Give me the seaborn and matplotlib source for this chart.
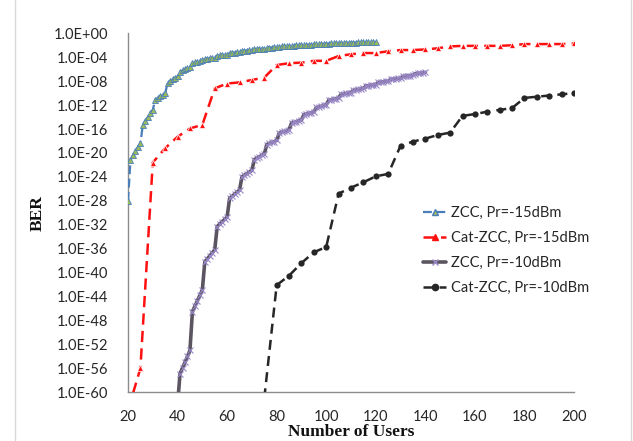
import matplotlib
matplotlib.use("Agg")
import matplotlib.pyplot as plt
import matplotlib.ticker as mticker
from matplotlib.lines import Line2D
import pandas as pd
import seaborn as sns

# BER exponents (BER = 10 ** -exp)
ZCC15_USERS = list(range(20, 121))
ZCC15_EXP = (
    [28.0]
    + [21.2, 20.4, 19.7, 19.0, 18.4]
    + [15.3, 14.6, 14.0, 13.4, 12.8]
    + [11.1, 10.8, 10.5, 10.25, 10.0]
    + [8.3, 8.0, 7.7, 7.45, 7.2]
    + [6.4, 6.2, 6.0, 5.8, 5.6]
    + [5.0, 4.88, 4.76, 4.64, 4.52]
    + [4.3, 4.24, 4.18, 4.11, 4.05]
    + [3.75, 3.7, 3.65, 3.6, 3.55]
    + [3.3, 3.26, 3.22, 3.19, 3.15]
    + [2.95, 2.92, 2.88, 2.85, 2.82]
    + [2.65, 2.62, 2.6, 2.57, 2.55]
    + [2.42, 2.4, 2.38, 2.35, 2.33]
    + [2.22, 2.2, 2.19, 2.17, 2.15]
    + [2.06, 2.05, 2.03, 2.02, 2.0]
    + [1.92, 1.91, 1.9, 1.88, 1.87]
    + [1.81, 1.8, 1.79, 1.77, 1.76]
    + [1.71, 1.7, 1.69, 1.68, 1.67]
    + [1.63, 1.62, 1.61, 1.6, 1.59]
    + [1.55, 1.54, 1.53, 1.53, 1.52]
    + [1.49, 1.48, 1.47, 1.47, 1.46]
)

CAT15_USERS = list(range(20, 201, 5))
CAT15_EXP = [63.0, 56.0, 21.6, 19.2, 17.3, 15.9, 15.3, 9.2, 8.4, 8.2, 7.8, 7.4,
             5.3, 5.0, 4.9, 4.6, 4.6, 3.8, 3.5, 3.3, 3.3, 3.0, 2.8, 2.8, 2.7,
             2.5, 2.2, 2.1, 2.1, 2.1, 2.1, 2.0, 1.8, 1.8, 1.8, 1.8, 1.7]

ZCC10_USERS = list(range(40, 141))
ZCC10_EXP = (
    [62.0]
    + [56.9, 55.9, 55.0, 54.0, 53.0]
    + [46.5, 45.6, 44.7, 43.8, 42.9]
    + [38.2, 37.7, 37.2, 36.7, 36.2]
    + [32.3, 31.9, 31.5, 31.1, 30.7]
    + [27.6, 27.25, 26.9, 26.55, 26.2]
    + [24.0, 23.7, 23.45, 23.2, 22.9]
    + [21.1, 20.9, 20.65, 20.4, 20.2]
    + [18.6, 18.4, 18.25, 18.1, 17.9]
    + [16.7, 16.55, 16.4, 16.25, 16.1]
    + [15.0, 14.9, 14.75, 14.6, 14.5]
    + [13.6, 13.5, 13.4, 13.25, 13.15]
    + [12.4, 12.3, 12.2, 12.05, 11.95]
    + [11.2, 11.1, 11.0, 10.9, 10.8]
    + [10.2, 10.1, 10.05, 9.95, 9.9]
    + [9.5, 9.43, 9.36, 9.29, 9.22]
    + [8.8, 8.74, 8.68, 8.62, 8.56]
    + [8.2, 8.15, 8.1, 8.05, 8.0]
    + [7.7, 7.65, 7.6, 7.55, 7.5]
    + [7.2, 7.16, 7.12, 7.08, 7.04]
    + [6.75, 6.7, 6.65, 6.6, 6.55]
)

CAT10_USERS = list(range(75, 201, 5))
CAT10_EXP = [61.0, 42.1, 40.5, 38.4, 36.6, 35.7, 26.8, 25.8, 24.9, 23.9, 23.5,
             18.8, 18.1, 17.6, 17.0, 16.6, 13.8, 13.5, 13.1, 12.8, 12.5,
             10.8, 10.6, 10.4, 10.2, 10.0]

LABELS = ["ZCC, Pr=-15dBm", "Cat-ZCC, Pr=-15dBm", "ZCC, Pr=-10dBm", "Cat-ZCC, Pr=-10dBm"]
X_TICKS = [20, 40, 60, 80, 100, 120, 140, 160, 180, 200]
Y_EXPS = list(range(0, 61, 4))

sns.set_theme(style="white")
plt.rcParams["font.family"] = ["Lato", "DejaVu Sans"]

fig = plt.figure(figsize=(6.33, 4.41), dpi=100)
ax = fig.add_axes([128 / 633, 1 - 392.3 / 441, (574 - 128) / 633, (392.3 - 33.3) / 441])


def frame(users, exps):
    return pd.DataFrame({"users": users, "ber": [10.0 ** -e for e in exps]})


sns.lineplot(data=frame(ZCC15_USERS, ZCC15_EXP), x="users", y="ber", ax=ax,
             color="#4A7EBB", lw=1.6, linestyle=(0, (4, 2)),
             marker="^", markersize=4, markerfacecolor="#9BBB59",
             markeredgecolor="#4A7EBB", markeredgewidth=0.6, zorder=4)
sns.lineplot(data=frame(CAT15_USERS, CAT15_EXP), x="users", y="ber", ax=ax,
             color="#FF1010", lw=1.8, linestyle=(0, (4.5, 2.5)),
             marker="^", markersize=5, markeredgewidth=0.5, zorder=3)
sns.lineplot(data=frame(ZCC10_USERS, ZCC10_EXP), x="users", y="ber", ax=ax,
             color="#5A5560", lw=2.6, linestyle="-",
             marker="x", markersize=4, markeredgecolor="#9A88C8",
             markeredgewidth=0.8, zorder=3)
sns.lineplot(data=frame(CAT10_USERS, CAT10_EXP), x="users", y="ber", ax=ax,
             color="#262626", lw=1.8, linestyle=(0, (4, 2.5)),
             marker="o", markersize=4.5, markeredgewidth=0, zorder=3)

ax.set_yscale("log")
ax.set_ylim(1e-60, 1.0)
ax.set_xlim(20, 200)
ax.yaxis.set_major_locator(mticker.FixedLocator([10.0 ** -e for e in Y_EXPS]))
ax.yaxis.set_minor_locator(mticker.NullLocator())
ax.set_yticklabels([f"1.0E{-e:+03d}" for e in Y_EXPS])
ax.set_xticks(X_TICKS)
ax.tick_params(axis="both", direction="inout", length=10, width=1,
               color="#8C8C8C", labelsize=10.5, labelcolor="#262626")
ax.tick_params(axis="y", pad=9)
ax.tick_params(axis="x", pad=8)

for side in ["top", "right"]:
    ax.spines[side].set_visible(False)
for side in ["left", "bottom"]:
    ax.spines[side].set_color("#8C8C8C")
    ax.spines[side].set_linewidth(1)

ax.set_xlabel("Number of Users", family="Liberation Serif", fontweight="bold",
              fontsize=12.5, labelpad=0, color="#111111")
ax.set_ylabel("BER", family="Liberation Serif", fontweight="bold",
              fontsize=12.5, labelpad=6, color="#111111")

handles = [
    Line2D([], [], color="#4A7EBB", lw=1.6, linestyle=(0, (4, 2)), marker="^",
           markersize=4, markerfacecolor="#9BBB59", markeredgecolor="#4A7EBB"),
    Line2D([], [], color="#FF1010", lw=1.8, linestyle=(0, (4.5, 2.5)), marker="^", markersize=5),
    Line2D([], [], color="#5A5560", lw=2.6, marker="x", markersize=4,
           markeredgecolor="#9A88C8"),
    Line2D([], [], color="#262626", lw=1.8, linestyle=(0, (4, 2.5)), marker="o", markersize=4.5),
]
leg = ax.legend(handles, LABELS, loc="upper left", frameon=False,
                bbox_to_anchor=(417 / 633, 1 - 200 / 441), bbox_transform=fig.transFigure,
                fontsize=10.5, handlelength=1.6, handletextpad=0.35, labelspacing=0.75,
                borderaxespad=0)
for t in leg.get_texts():
    t.set_color("#262626")

# chart-area border lines
for xb in [15, 631]:
    fig.add_artist(Line2D([xb / 633, xb / 633], [0, 1], transform=fig.transFigure,
                          color="#D9D9D9", lw=1))

fig.savefig("out.png", dpi=100)
